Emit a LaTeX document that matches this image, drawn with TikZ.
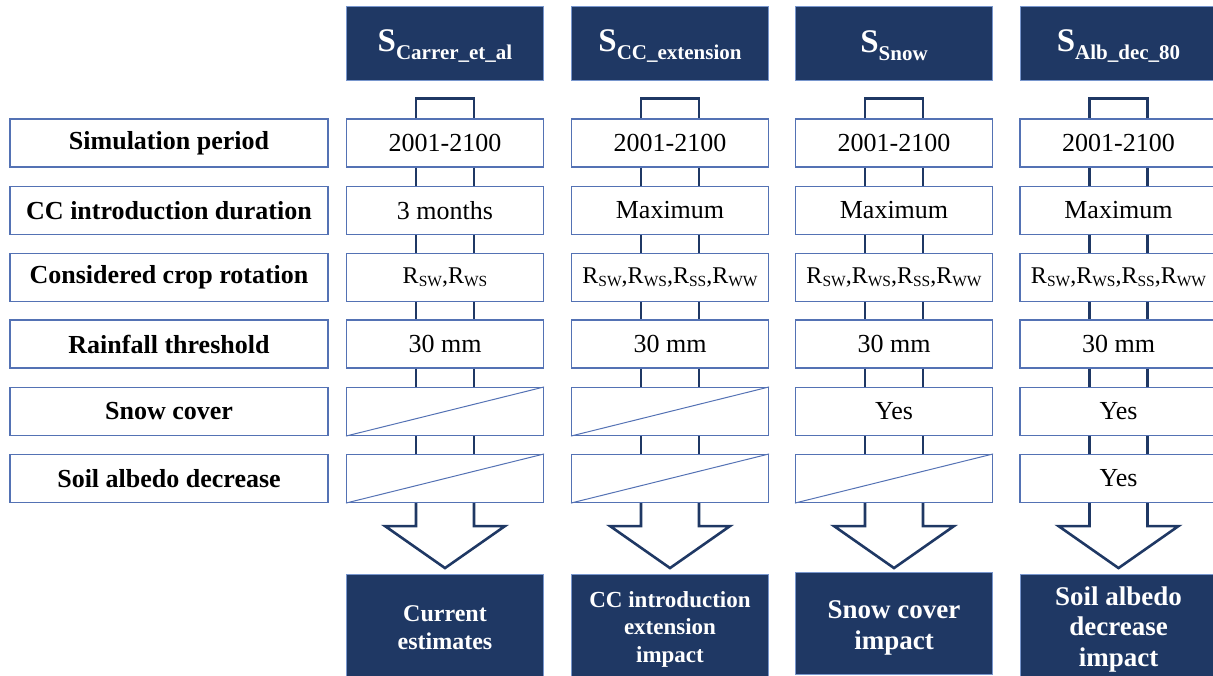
\documentclass[tikz,border=0pt]{standalone}
\usepackage{fontspec}
\setmainfont{Liberation Serif}
\usetikzlibrary{calc}
\definecolor{navy}{RGB}{31,56,100}
\definecolor{bord}{RGB}{84,114,180}
\definecolor{hbord}{RGB}{120,150,205}
\newcommand{\hdrtxt}[1]{{\fontsize{33}{33}\selectfont S}\raisebox{-8pt}{\fontsize{21}{21}\selectfont #1}}
\newcommand{\Rs}[1]{R\raisebox{-3pt}{\fontsize{15.5}{15.5}\selectfont #1}}
\begin{document}
\begin{tikzpicture}[x=1pt,y=-1pt,
 lbl/.style={draw=bord,line width=1.1pt,minimum width=318pt,minimum height=48pt,inner sep=0pt,font=\fontsize{26}{30}\selectfont\bfseries},
 val/.style={draw=bord,line width=1.1pt,minimum width=197pt,minimum height=48pt,inner sep=0pt,font=\fontsize{26}{30}\selectfont},
 rot/.style={font=\fontsize{24}{30}\selectfont},
 hdr/.style={fill=navy,draw=hbord,line width=0.8pt,minimum width=197pt,minimum height=74pt,inner sep=0pt,text=white,font=\bfseries},
 res/.style={fill=navy,draw=hbord,line width=0.8pt,minimum width=197pt,minimum height=102pt,inner sep=0pt,text=white,align=center,font=\bfseries},
 rtxt/.style={text=white,align=center,inner sep=0pt},
 conn/.style={draw=navy,line width=2.6pt,line join=miter},
 diag/.style={draw=bord,line width=1pt}]
\useasboundingbox (0,0) rectangle (1213,675);

% headers
\node[hdr] (h1) at (445,43) {};
\node[hdr] (h2) at (670,43.5) {};
\node[hdr] (h3) at (894,43) {};
\node[hdr] (h4) at (1118.5,43.5) {};
\node[text=white,font=\bfseries,inner sep=0pt] (t1) at ([yshift=-3pt]h1.center) {\hdrtxt{Carrer\_et\_al}};
\node[text=white,font=\bfseries,inner sep=0pt] (t2) at ([yshift=-3pt]h2.center) {\hdrtxt{CC\_extension}};
\node[text=white,font=\bfseries,inner sep=0pt] (t3) at ([yshift=-3pt]h3.center) {\hdrtxt{Snow}};
\node[text=white,font=\bfseries,inner sep=0pt] (t4) at ([yshift=-3pt]h4.center) {\hdrtxt{Alb\_dec\_80}};

% left labels
\node[lbl] (l1) at (169,143) {Simulation period};
\node[lbl] (l2) at (169,210.5) {CC introduction duration};
\node[lbl] (l3) at (169,277.5) {Considered crop rotation};
\node[lbl] (l4) at (169,344) {Rainfall threshold};
\node[lbl] (l5) at (169,411.5) {Snow cover};
\node[lbl] (l6) at (169,478.5) {Soil albedo decrease};

% values
\foreach \c/\x in {1/445,2/670,3/894,4/1118.5}{
  \node[val] (v1-\c) at (\x,143) {2001-2100};
  \node[val] (v4-\c) at (\x,344) {30 mm};
}
\node[val] (v2-1) at (445,210.5) {3 months};
\foreach \c/\x in {2/670,3/894,4/1118.5}{
  \node[val] (v2-\c) at (\x,210.5) {Maximum};
  \node[val,rot] (v3-\c) at (\x,277.5) {\Rs{SW},\Rs{WS},\Rs{SS},\Rs{WW}};
}
\node[val,rot] (v3-1) at (445,277.5) {\Rs{SW},\Rs{WS}};

\node[val] (v5-1) at (445,411.5) {};
\node[val] (v5-2) at (670,411.5) {};
\node[val] (v5-3) at (894,411.5) {Yes};
\node[val] (v5-4) at (1118.5,411.5) {Yes};
\node[val] (v6-1) at (445,478.5) {};
\node[val] (v6-2) at (670,478.5) {};
\node[val] (v6-3) at (894,478.5) {};
\node[val] (v6-4) at (1118.5,478.5) {Yes};

\draw[diag] (v5-1.south west) -- (v5-1.north east);
\draw[diag] (v5-2.south west) -- (v5-2.north east);
\draw[diag] (v6-1.south west) -- (v6-1.north east);
\draw[diag] (v6-2.south west) -- (v6-2.north east);
\draw[diag] (v6-3.south west) -- (v6-3.north east);

% results
\node[res] (r1) at (445,625) {};
\node[res] (r2) at (670,625) {};
\node[res] (r3) at (894,623.5) {};
\node[res] (r4) at (1118.5,625) {};
\node[rtxt,font=\fontsize{24}{28}\selectfont\bfseries] (s1) at ([yshift=-3pt]r1.center) {Current\\estimates};
\node[rtxt,font=\fontsize{23}{27.5}\selectfont\bfseries] (s2) at ([yshift=-4pt]r2.center) {CC introduction\\extension\\impact};
\node[rtxt,font=\fontsize{27}{31}\selectfont\bfseries] (s3) at ([yshift=-4pt]r3.center) {Snow cover\\impact};
\node[rtxt,font=\fontsize{27}{30.5}\selectfont\bfseries] (s4) at ([yshift=-4pt]r4.center) {Soil albedo\\decrease\\impact};

% connectors
\foreach \c in {1,2,3,4}{
  \draw[conn] ($(v1-\c.north)+(-29,0)$) -- ++(0,-20) -- ++(58,0) -- ++(0,20);
  \foreach \r/\n in {1/2,2/3,3/4,4/5,5/6}{
    \draw[conn] ($(v\r-\c.south)+(-29,0)$) -- ($(v\n-\c.north)+(-29,0)$);
    \draw[conn] ($(v\r-\c.south)+(29,0)$) -- ($(v\n-\c.north)+(29,0)$);
  }
  \draw[conn] ($(v6-\c.south)+(-29,0)$) -- ++(0,23) -- ++(-31,0) -- ($(v6-\c.south)+(0,65)$) -- ++(60,-42) -- ++(-31,0) -- ++(0,-23);
}
\end{tikzpicture}
\end{document}
